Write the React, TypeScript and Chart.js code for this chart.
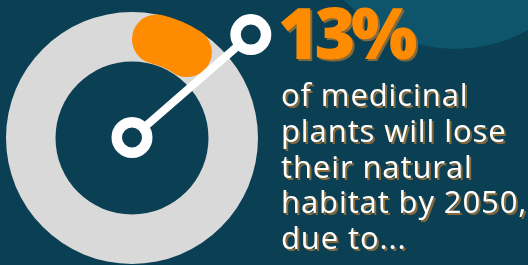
import React, { useEffect, useRef } from "react";
import { Chart, registerables } from "chart.js";

Chart.register(...registerables);

// ---- data ----
const ringLabels = ["All medicinal plants"];
const ringValues = [100];
const shareLabels = ["Lose natural habitat by 2050", "Other medicinal plants"];
const shareValues = [13, 87];
const headline = "13%";
const bodyLines = ["of medicinal", "plants will lose", "their natural", "habitat by 2050,", "due to..."];

// ---- styles ----
const BG = "#0b4054";
const BG_LIGHT = "#0e556c";
const ORANGE = "#ff8c00";
const GRAY = "#d9d9d9";
const SHADOW = "#86693a";

const CANVAS_W = 290;
const CANVAS_H = 290;
const layoutPadding = { left: 6, top: 12, right: 32, bottom: 26 };

const pointerPlugin = {
  id: "pointer",
  afterDatasetsDraw(chart: any) {
    const arc = chart.getDatasetMeta(0).data[0];
    if (!arc) return;
    const { x, y, endAngle, outerRadius } = arc.getProps(["x", "y", "endAngle", "outerRadius"], true);
    const ctx = chart.ctx as CanvasRenderingContext2D;
    const a = endAngle + 0.038;
    const len = outerRadius * 1.25;
    const ex = x + Math.cos(a) * len;
    const ey = y + Math.sin(a) * len;
    ctx.save();
    ctx.strokeStyle = "#ffffff";
    ctx.lineWidth = 8;
    ctx.beginPath();
    ctx.moveTo(x, y);
    ctx.lineTo(ex, ey);
    ctx.stroke();
    for (const [cx, cy] of [[x, y - 0.5], [ex, ey]]) {
      ctx.beginPath();
      ctx.arc(cx, cy, 15.25, 0, Math.PI * 2);
      ctx.fillStyle = BG;
      ctx.fill();
      ctx.lineWidth = 10.5;
      ctx.strokeStyle = "#ffffff";
      ctx.stroke();
    }
    ctx.restore();
  },
};

function baseOptions(): any {
  return {
    responsive: true,
    maintainAspectRatio: false,
    animation: false,
    events: [],
    radius: 126,
    cutout: "60.7%",
    layout: { padding: layoutPadding },
    plugins: { legend: { display: false }, tooltip: { enabled: false }, title: { display: false } },
  };
}

function RingChart() {
  const ref = useRef<HTMLCanvasElement>(null);
  useEffect(() => {
    if (!ref.current) return;
    const chart = new Chart(ref.current, {
      type: "doughnut",
      data: {
        labels: ringLabels,
        datasets: [{ data: ringValues, backgroundColor: [GRAY], borderWidth: 0, hoverBorderWidth: 0 }],
      },
      options: baseOptions(),
    });
    return () => chart.destroy();
  }, []);
  return (
    <div style={{ position: "absolute", left: 0, top: 0, width: CANVAS_W, height: CANVAS_H }}>
      <canvas ref={ref} />
    </div>
  );
}

function ShareChart() {
  const ref = useRef<HTMLCanvasElement>(null);
  useEffect(() => {
    if (!ref.current) return;
    const chart = new Chart(ref.current, {
      type: "doughnut",
      data: {
        labels: shareLabels,
        datasets: [
          {
            data: shareValues,
            backgroundColor: [ORANGE, "rgba(0,0,0,0)"],
            borderWidth: 0,
            hoverBorderWidth: 0,
            borderRadius: [30, 0],
            offset: [2, 0],
          },
        ],
      },
      options: baseOptions(),
      plugins: [pointerPlugin],
    });
    return () => chart.destroy();
  }, []);
  return (
    <div style={{ position: "absolute", left: 0, top: 0, width: CANVAS_W, height: CANVAS_H }}>
      <canvas ref={ref} />
    </div>
  );
}

export default function App() {
  return (
    <div
      style={{
        position: "fixed",
        left: 0,
        top: 0,
        width: 528,
        height: 265,
        overflow: "hidden",
        background: BG,
      }}
    >
      <div
        style={{
          position: "absolute",
          left: 305,
          top: -251,
          width: 300,
          height: 300,
          borderRadius: "50%",
          background: BG_LIGHT,
        }}
      />
      <RingChart />
      <ShareChart />
      <div
        style={{
          position: "absolute",
          left: 278,
          top: -3,
          fontFamily: "'Open Sans', sans-serif",
          fontWeight: 800,
          fontSize: 70,
          lineHeight: "70px",
          letterSpacing: "-4.5px",
          color: ORANGE,
          textShadow: `2px 2px 0 ${SHADOW}`,
          whiteSpace: "nowrap",
        }}
      >
        {headline}
      </div>
      <div
        style={{
          position: "absolute",
          left: 281,
          top: 77,
          fontFamily: "'Open Sans', sans-serif",
          fontWeight: 500,
          fontSize: 31,
          lineHeight: "35.8px",
          letterSpacing: "0.9px",
          color: "#ffffff",
          textShadow: `2px 2px 0 ${SHADOW}`,
          whiteSpace: "nowrap",
        }}
      >
        {bodyLines.map((l) => (
          <div key={l}>{l}</div>
        ))}
      </div>
    </div>
  );
}
